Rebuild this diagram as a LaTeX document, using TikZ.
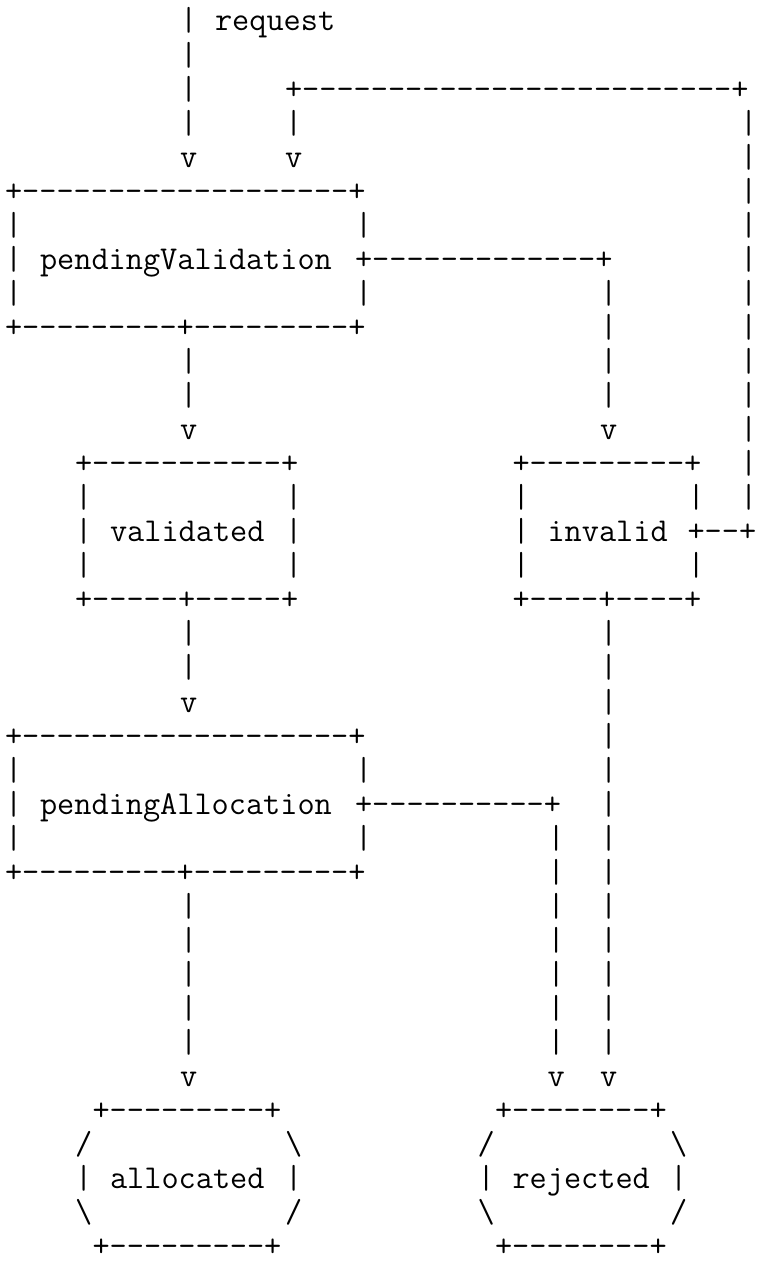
\documentclass[tikz,border=0pt]{standalone}
\usepackage{fontspec}
\newcommand\dashrep[2]{\ifnum#1>0 #2\expandafter\dashrep\expandafter{\the\numexpr#1-1\relax}{#2}\fi}
\tikzset{ascii/.style={anchor=base west, inner sep=0pt, outer sep=0pt, text=black,
  font=\ttfamily\fontsize{16.667pt}{20pt}\selectfont}}
% column #1, row #2, text #3
\newcommand\asc[3]{\node[ascii] (r#2c#1) at ({5+17.5*#1},{31+34.05*#2}) {#3};}
\begin{document}
\begin{tikzpicture}[x=0.5pt,y=-0.5pt]
\fill[white] (0,0) rectangle (757,1262);
\useasboundingbox (0,0) rectangle (757,1262);
% row 0-4
\asc{10}{0}{|}\asc{12}{0}{request}
\asc{10}{1}{|}
\asc{10}{2}{|}\asc{16}{2}{+\dashrep{25}{-}+}
\asc{10}{3}{|}\asc{16}{3}{|}\asc{42}{3}{|}
\asc{10}{4}{v}\asc{16}{4}{v}\asc{42}{4}{|}
% pendingValidation
\asc{0}{5}{+\dashrep{19}{-}+}\asc{42}{5}{|}
\asc{0}{6}{|}\asc{20}{6}{|}\asc{42}{6}{|}
\asc{0}{7}{|}\asc{2}{7}{pendingValidation}\asc{20}{7}{+\dashrep{13}{-}+}\asc{42}{7}{|}
\asc{0}{8}{|}\asc{20}{8}{|}\asc{34}{8}{|}\asc{42}{8}{|}
\asc{0}{9}{+\dashrep{9}{-}+\dashrep{9}{-}+}\asc{34}{9}{|}\asc{42}{9}{|}
\asc{10}{10}{|}\asc{34}{10}{|}\asc{42}{10}{|}
\asc{10}{11}{|}\asc{34}{11}{|}\asc{42}{11}{|}
\asc{10}{12}{v}\asc{34}{12}{v}\asc{42}{12}{|}
% validated / invalid
\asc{4}{13}{+\dashrep{11}{-}+}\asc{29}{13}{+\dashrep{9}{-}+}\asc{42}{13}{|}
\asc{4}{14}{|}\asc{16}{14}{|}\asc{29}{14}{|}\asc{39}{14}{|}\asc{42}{14}{|}
\asc{4}{15}{|}\asc{6}{15}{validated}\asc{16}{15}{|}\asc{29}{15}{|}\asc{31}{15}{invalid}\asc{39}{15}{+--+}
\asc{4}{16}{|}\asc{16}{16}{|}\asc{29}{16}{|}\asc{39}{16}{|}
\asc{4}{17}{+\dashrep{5}{-}+\dashrep{5}{-}+}\asc{29}{17}{+\dashrep{4}{-}+\dashrep{4}{-}+}
\asc{10}{18}{|}\asc{34}{18}{|}
\asc{10}{19}{|}\asc{34}{19}{|}
\asc{10}{20}{v}\asc{34}{20}{|}
% pendingAllocation
\asc{0}{21}{+\dashrep{19}{-}+}\asc{34}{21}{|}
\asc{0}{22}{|}\asc{20}{22}{|}\asc{34}{22}{|}
\asc{0}{23}{|}\asc{2}{23}{pendingAllocation}\asc{20}{23}{+\dashrep{10}{-}+}\asc{34}{23}{|}
\asc{0}{24}{|}\asc{20}{24}{|}\asc{31}{24}{|}\asc{34}{24}{|}
\asc{0}{25}{+\dashrep{9}{-}+\dashrep{9}{-}+}\asc{31}{25}{|}\asc{34}{25}{|}
\asc{10}{26}{|}\asc{31}{26}{|}\asc{34}{26}{|}
\asc{10}{27}{|}\asc{31}{27}{|}\asc{34}{27}{|}
\asc{10}{28}{|}\asc{31}{28}{|}\asc{34}{28}{|}
\asc{10}{29}{|}\asc{31}{29}{|}\asc{34}{29}{|}
\asc{10}{30}{|}\asc{31}{30}{|}\asc{34}{30}{|}
\asc{10}{31}{v}\asc{31}{31}{v}\asc{34}{31}{v}
% allocated / rejected
\asc{5}{32}{+\dashrep{9}{-}+}\asc{28}{32}{+\dashrep{8}{-}+}
\asc{4}{33}{/}\asc{16}{33}{\textbackslash}\asc{27}{33}{/}\asc{38}{33}{\textbackslash}
\asc{4}{34}{|}\asc{6}{34}{allocated}\asc{16}{34}{|}\asc{27}{34}{|}\asc{29}{34}{rejected}\asc{38}{34}{|}
\asc{4}{35}{\textbackslash}\asc{16}{35}{/}\asc{27}{35}{\textbackslash}\asc{38}{35}{/}
\asc{5}{36}{+\dashrep{9}{-}+}\asc{28}{36}{+\dashrep{8}{-}+}
\end{tikzpicture}
\end{document}
